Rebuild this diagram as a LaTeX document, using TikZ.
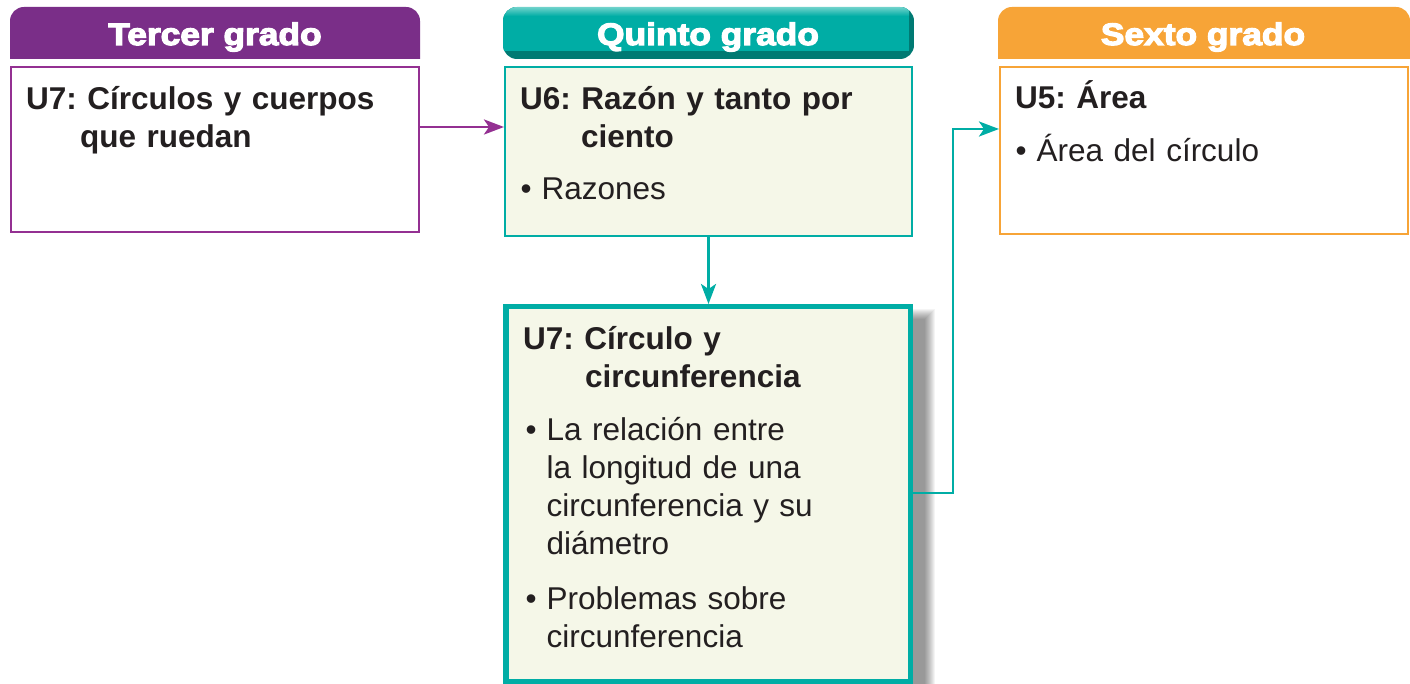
\documentclass[tikz,border=0pt]{standalone}
\usepackage{fontspec}
\setmainfont{Liberation Sans}
\newfontfamily\headfont[FakeBold=4,FakeStretch=1.14]{Liberation Sans}
\usetikzlibrary{arrows.meta}
\definecolor{pur}{RGB}{122,46,136}
\definecolor{purline}{RGB}{148,48,146}
\definecolor{tealc}{RGB}{0,173,165}
\definecolor{teald}{RGB}{0,122,115}
\definecolor{teall}{RGB}{112,210,203}
\definecolor{orng}{RGB}{247,164,55}
\definecolor{beige}{RGB}{245,247,232}
\definecolor{ink}{RGB}{35,31,32}
\tikzset{
  hdtext/.style={font=\headfont\bfseries\fontsize{31}{31}\selectfont, text=white, anchor=base, inner sep=0pt},
  boxnode/.style={rectangle, inner sep=0pt},
  ttl/.style={font=\frenchspacing\bfseries\fontsize{31.5}{38}\selectfont, text=ink, anchor=base west, inner sep=0pt, text width=390pt, align=left},
  itm/.style={font=\frenchspacing\fontsize{31.5}{38}\selectfont, text=ink, anchor=base west, inner sep=0pt, text width=390pt, align=left},
  conn/.style={line width=2.8pt, -{Stealth[length=20pt,width=15pt,inset=5pt]}},
}
\newcommand{\blt}{\makebox[21pt][l]{•}}
\begin{document}
\begin{tikzpicture}[x=1pt,y=-1pt]
\path[use as bounding box, clip] (0,0) rectangle (1410,684);
\fill[white] (0,0) rectangle (1410,684);

% headers
\fill[pur, rounded corners=14pt] (10,59) -- (10,7) -- (420,7) -- (420,59);
\node[hdtext] (h1) at (215,45) {Tercer grado};

\begin{scope}
\clip[rounded corners=14pt] (503,59) -- (503,7) -- (914,7) -- (914,59) -- cycle;
\fill[teald] (503,7) rectangle (914,59);
\fill[tealc] (503,7) -- (909,7) -- (909,51) -- (503,51) -- cycle;
\shade[top color=teall, bottom color=tealc] (503,7) rectangle (909,16);
\end{scope}
\node[hdtext] (h2) at (708,45) {Quinto grado};

\fill[orng, rounded corners=14pt] (998,59) -- (998,7) -- (1410,7) -- (1410,59);
\node[hdtext] (h3) at (1203,45) {Sexto grado};

% boxes
\node[boxnode, draw=purline, fill=white, line width=2pt, minimum width=407.5pt, minimum height=165pt] (b1) at (214.75,149.5) {};
\node[boxnode, draw=tealc, fill=beige, line width=2pt, minimum width=407pt, minimum height=169pt] (b2) at (708.5,151.5) {};
\node[boxnode, draw=orng, fill=white, line width=2pt, minimum width=408pt, minimum height=167pt] (b3) at (1204,150.5) {};

% shadow of the big box
\foreach \i in {1,...,11} {
  \fill[black, opacity=0.045] (505+\i,308+\i) rectangle (936-\i,700);
}
\node[boxnode, draw=tealc, fill=beige, line width=5.5pt, minimum width=404.5pt, minimum height=374.5pt] (b4) at (708,494) {};

% texts
\node[ttl] (t1) at (26,110) {U7: Círculos y cuerpos\\\hspace*{54pt}que ruedan};
\node[ttl] (t2) at (520,110) {U6: Razón y tanto por\\\hspace*{61pt}ciento};
\node[itm] (t2a) at (520.5,200) {\blt Razones};
\node[ttl] (t3) at (1015,109) {U5: Área};
\node[itm] (t3a) at (1015.5,162) {\blt Área del círculo};
\node[ttl] (t4) at (523,349) {U7: Círculo y\\\hspace*{62pt}circunferencia};
\node[itm] (t4a) at (525.5,440) {\blt La relación entre\\\hspace*{21pt}la longitud de una\\\hspace*{21pt}circunferencia y su\\\hspace*{21pt}diámetro};
\node[itm] (t4b) at (525.5,609) {\blt Problemas sobre\\\hspace*{21pt}circunferencia};

% connectors
\coordinate (c1) at (0,127);
\coordinate (e1) at (953,493);
\coordinate (e2) at (953,129);
\draw[conn, color=purline] (b1.east |- c1) -- (b2.west |- c1);
\draw[conn, color=tealc] (b2.south) -- (b2.south |- b4.north);
\draw[conn, color=tealc] (b4.east |- e1) -- (e1) -- (e2) -- (b3.west |- e2);
\end{tikzpicture}
\end{document}
